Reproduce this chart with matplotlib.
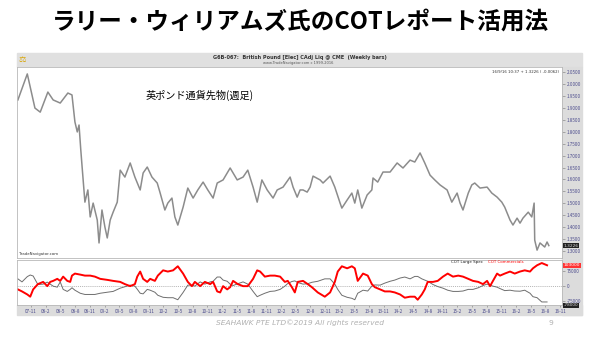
import matplotlib
matplotlib.use("Agg")
import matplotlib.pyplot as plt
from matplotlib.patches import Rectangle

plt.rcParams['font.family'] = ['Noto Sans CJK JP', 'DejaVu Sans']

# ---------------------------------------------------------------------
# Data (decimal years, GBP/USD, net contracts)
# ---------------------------------------------------------------------

price_years = [
    2007.61, 2007.77, 2007.90, 2007.99, 2008.12, 2008.21, 2008.33, 2008.46,
    2008.53, 2008.58, 2008.62, 2008.65, 2008.68, 2008.70, 2008.75, 2008.80,
    2008.84, 2008.89, 2008.96, 2008.99, 2009.04, 2009.09, 2009.13, 2009.18,
    2009.23, 2009.30, 2009.35, 2009.43, 2009.52, 2009.60, 2009.69, 2009.74,
    2009.81, 2009.89, 2009.98, 2010.03, 2010.11, 2010.16, 2010.23, 2010.28,
    2010.33, 2010.42, 2010.50, 2010.59, 2010.67, 2010.76, 2010.84, 2010.93,
    2011.00, 2011.10, 2011.22, 2011.34, 2011.44, 2011.52, 2011.61, 2011.68,
    2011.76, 2011.85, 2011.95, 2012.02, 2012.12, 2012.24, 2012.29, 2012.36,
    2012.41, 2012.46, 2012.53, 2012.58, 2012.63, 2012.75, 2012.80, 2012.92,
    2013.00, 2013.09, 2013.12, 2013.21, 2013.29, 2013.34, 2013.39, 2013.46,
    2013.55, 2013.63, 2013.65, 2013.73, 2013.82, 2013.94, 2014.06, 2014.16,
    2014.28, 2014.36, 2014.45, 2014.53, 2014.62, 2014.70, 2014.79, 2014.91,
    2014.99, 2015.08, 2015.13, 2015.18, 2015.27, 2015.33, 2015.38, 2015.47,
    2015.59, 2015.67, 2015.76, 2015.84, 2015.89, 2015.98, 2016.03, 2016.10,
    2016.15, 2016.20, 2016.29, 2016.35, 2016.39, 2016.40, 2016.44, 2016.49,
    2016.57, 2016.61, 2016.64,
]
price_close = [
    1.933, 2.042, 1.899, 1.882, 1.966, 1.933, 1.920, 1.962,
    1.954, 1.841, 1.799, 1.828, 1.723, 1.660, 1.505, 1.556,
    1.443, 1.501, 1.430, 1.334, 1.472, 1.401, 1.355, 1.430,
    1.463, 1.505, 1.639, 1.610, 1.669, 1.610, 1.556, 1.627,
    1.652, 1.610, 1.585, 1.543, 1.472, 1.501, 1.522, 1.443,
    1.409, 1.484, 1.564, 1.522, 1.556, 1.589, 1.556, 1.522,
    1.585, 1.598, 1.648, 1.598, 1.610, 1.639, 1.568, 1.505,
    1.598, 1.556, 1.522, 1.556, 1.568, 1.610, 1.568, 1.526,
    1.556, 1.556, 1.547, 1.568, 1.614, 1.598, 1.585, 1.614,
    1.568, 1.501, 1.480, 1.514, 1.543, 1.501, 1.556, 1.480,
    1.535, 1.556, 1.606, 1.589, 1.631, 1.631, 1.669, 1.648,
    1.681, 1.673, 1.711, 1.669, 1.618, 1.598, 1.577, 1.556,
    1.505, 1.543, 1.501, 1.472, 1.543, 1.577, 1.585, 1.564,
    1.568, 1.543, 1.526, 1.505, 1.484, 1.430, 1.409, 1.438,
    1.417, 1.438, 1.463, 1.443, 1.501, 1.346, 1.304, 1.334,
    1.317, 1.338, 1.323,
]

cot_years = [
    2007.61, 2007.68, 2007.77, 2007.82, 2007.87, 2007.95, 2008.04, 2008.11,
    2008.16, 2008.21, 2008.28, 2008.33, 2008.38, 2008.45, 2008.50, 2008.53,
    2008.58, 2008.67, 2008.75, 2008.84, 2008.92, 2009.01, 2009.13, 2009.23,
    2009.35, 2009.43, 2009.52, 2009.60, 2009.64, 2009.69, 2009.74, 2009.81,
    2009.86, 2009.94, 2009.99, 2010.08, 2010.16, 2010.25, 2010.33, 2010.42,
    2010.50, 2010.57, 2010.62, 2010.71, 2010.79, 2010.88, 2010.93, 2011.00,
    2011.05, 2011.10, 2011.17, 2011.22, 2011.27, 2011.35, 2011.44, 2011.52,
    2011.61, 2011.68, 2011.73, 2011.81, 2011.90, 2011.98, 2012.07, 2012.15,
    2012.20, 2012.27, 2012.32, 2012.37, 2012.46, 2012.54, 2012.61, 2012.71,
    2012.83, 2012.92, 2013.00, 2013.05, 2013.12, 2013.21, 2013.29, 2013.34,
    2013.39, 2013.48, 2013.56, 2013.63, 2013.68, 2013.77, 2013.85, 2013.94,
    2014.02, 2014.11, 2014.19, 2014.28, 2014.36, 2014.41, 2014.48, 2014.53,
    2014.58, 2014.67, 2014.75, 2014.84, 2014.92, 2015.01, 2015.10, 2015.18,
    2015.27, 2015.35, 2015.44, 2015.52, 2015.59, 2015.64, 2015.69, 2015.76,
    2015.81, 2015.89, 2015.98, 2016.06, 2016.15, 2016.23, 2016.32, 2016.37,
    2016.44, 2016.52, 2016.61,
]
cot_commercials = [
    -16000, -26000, -41000, -52000, -16000, 10000, 21000, 0,
    21000, 26000, 36000, 26000, 47000, 26000, 21000, 52000,
    62000, 57000, 52000, 52000, 47000, 36000, 31000, 26000,
    21000, 10000, 0, 10000, 47000, 72000, 36000, 21000,
    36000, 26000, 52000, 78000, 72000, 78000, 98000, 62000,
    21000, 0, 21000, 0, 21000, 10000, 21000, -26000,
    -31000, 0, -16000, -5000, 26000, 10000, 0, 0,
    36000, 78000, 72000, 47000, 52000, 52000, 47000, 21000,
    26000, -5000, -31000, 21000, 26000, 10000, -5000, -31000,
    -52000, -31000, 21000, 72000, 98000, 88000, 98000, 88000,
    26000, 62000, 52000, 10000, -5000, -16000, -26000, -26000,
    -31000, -41000, -57000, -52000, -52000, -67000, -41000, -16000,
    21000, 21000, 26000, 47000, 62000, 47000, 52000, 47000,
    36000, 26000, 21000, 10000, 26000, 0, 26000, 62000,
    52000, 62000, 72000, 62000, 72000, 78000, 72000, 88000,
    103000, 114000, 103000,
]
cot_large_spec = [
    36000, 21000, 47000, 55000, 50000, 8000, 10000, 20000,
    10000, 0, -5000, 21000, -16000, -26000, -16000, -8000,
    -20000, -35000, -41000, -41000, -41000, -35000, -30000, -26000,
    -10000, -3000, 5000, 0, -15000, -35000, -38000, -16000,
    -20000, -30000, -45000, -55000, -57000, -57000, -67000, -31000,
    5000, 5000, 0, 21000, 10000, 21000, 24000, 45000,
    45000, 30000, 24000, 10000, 3000, 12000, 21000, 10000,
    -26000, -52000, -45000, -35000, -26000, -24000, -16000, 0,
    13000, 23000, 26000, 18000, 10000, 12000, 19000, 24000,
    36000, 36000, 10000, -16000, -45000, -55000, -60000, -67000,
    -35000, -20000, -24000, 0, 6000, 5000, 15000, 24000,
    30000, 40000, 45000, 36000, 48000, 48000, 36000, 30000,
    24000, 8000, -2000, -10000, -20000, -26000, -26000, -24000,
    -16000, -16000, -8000, 3000, 10000, 5000, 0, -5000,
    -12000, -22000, -20000, -24000, -25000, -20000, -35000, -52000,
    -57000, -78000, -78000,
]

price_ticks = [1.30, 1.35, 1.40, 1.45, 1.50, 1.55, 1.60, 1.65, 1.70,
               1.75, 1.80, 1.85, 1.90, 1.95, 2.00, 2.05]
cot_ticks = [-75000, 0, 75000]
x_labels = ['07-11', '08-2', '08-5', '08-8', '08-11', '09-2', '09-5', '09-8',
            '09-11', '10-2', '10-5', '10-8', '10-11', '11-2', '11-5', '11-8',
            '11-11', '12-2', '12-5', '12-8', '12-11', '13-2', '13-5', '13-8',
            '13-11', '14-2', '14-5', '14-8', '14-11', '15-2', '15-5', '15-8',
            '15-11', '16-2', '16-5', '16-8', '16-11']
x_pos = [2000 + int(s.split('-')[0]) + (int(s.split('-')[1]) - 1) / 12
         for s in x_labels]

# ---------------------------------------------------------------------
# Layout helpers (pixel -> figure coords on a 600x338 canvas)
# ---------------------------------------------------------------------
W, H = 600, 338


def fx(px):
    return px / W


def fy(py):
    return 1 - py / H


fig = plt.figure(figsize=(6, 3.38), dpi=100)
fig.patch.set_facecolor('white')

axis_blue = '#4b4b8c'
frame_gray = '#b8b8b8'
xlim = (2007.595, 2016.864)

# gray bands: header, right axis, bottom date axis
fig.add_artist(Rectangle((fx(17), fy(67)), fx(565), 14 / H,
                         transform=fig.transFigure, color='#e0e0e0', zorder=-2))
fig.add_artist(Rectangle((fx(562), fy(315)), fx(20), 248 / H,
                         transform=fig.transFigure, color='#dcdcdc', zorder=-2))
fig.add_artist(Rectangle((fx(17), fy(315)), fx(565), 10 / H,
                         transform=fig.transFigure, color='#dcdcdc', zorder=-2))

# ---------------------------------------------------------------------
# Price panel
# ---------------------------------------------------------------------
ax = fig.add_axes([fx(17), fy(258), fx(545), 191 / H])
ax.plot(price_years, price_close, color='#8c8c8c', lw=1.1)
ax.set_xlim(*xlim)
ax.set_ylim(1.271, 2.071)
ax.yaxis.tick_right()
ax.set_yticks(price_ticks)
ax.set_yticklabels([f"{v:.4f}" for v in price_ticks])
ax.tick_params(axis='y', labelsize=3.3, colors='#777777',
               labelcolor=axis_blue, length=2, width=0.4, pad=1.5)
ax.set_xticks([])
for s in ax.spines.values():
    s.set_color(frame_gray)
    s.set_linewidth(0.6)

ax.text(0.235, 0.85, "英ポンド通貨先物(週足)", transform=ax.transAxes,
        fontsize=7.3, color='black', va='center')
ax.text(0.995, 0.985, "16/9/16 10:37 + 1.3226 ( -0.0062)",
        transform=ax.transAxes, fontsize=2.8, color='#333333',
        ha='right', va='top', family='DejaVu Sans')
ax.text(0.004, 0.012, "TradeNavigator.com", transform=ax.transAxes,
        fontsize=2.8, color='#333333', va='bottom', family='DejaVu Sans')
ax.text(1.003, 1.3226, "1.3226", transform=ax.get_yaxis_transform(),
        fontsize=3.2, color='#dddddd', va='center', ha='left',
        family='DejaVu Sans',
        bbox=dict(boxstyle='square,pad=0.15', fc='#222222', ec='none'))

# ---------------------------------------------------------------------
# COT panel
# ---------------------------------------------------------------------
bx = fig.add_axes([fx(17), fy(305), fx(545), 45 / H])
bx.plot(cot_years, cot_large_spec, color='#6e6e6e', lw=0.7)
bx.plot(cot_years, cot_commercials, color='#ff0000', lw=1.4)
bx.axhline(0, color='#9a9a9a', lw=0.5, ls=(0, (1.5, 1.5)), zorder=0)
bx.set_xlim(*xlim)
bx.set_ylim(-93000, 129000)
bx.yaxis.tick_right()
bx.set_yticks(cot_ticks)
bx.set_yticklabels([str(v) for v in cot_ticks])
bx.tick_params(axis='y', labelsize=3.3, colors='#777777',
               labelcolor=axis_blue, length=2, width=0.4, pad=1.5)
bx.set_xticks(x_pos)
bx.set_xticklabels(x_labels)
bx.tick_params(axis='x', labelsize=3.3, colors='#777777',
               labelcolor=axis_blue, length=1.5, width=0.4, pad=1.5)
for s in bx.spines.values():
    s.set_color(frame_gray)
    s.set_linewidth(0.6)

bx.text(0.855, 0.99, "COT Large Spec", transform=bx.transAxes, fontsize=2.9,
        color='#222222', ha='right', va='top', family='DejaVu Sans')
bx.text(0.865, 0.99, "COT Commercials", transform=bx.transAxes, fontsize=2.9,
        color='#ff0000', ha='left', va='top', family='DejaVu Sans')
bx.text(1.003, cot_commercials[-1], f"{cot_commercials[-1]}",
        transform=bx.get_yaxis_transform(), fontsize=3.2, color='white',
        va='center', ha='left', family='DejaVu Sans',
        bbox=dict(boxstyle='square,pad=0.15', fc='#ff3333', ec='none'))
# last large-spec value box, nudged just below the -75000 tick label
bx.text(1.003, -95000, f"{cot_large_spec[-1]}",
        transform=bx.get_yaxis_transform(), fontsize=3.0, color='#dddddd',
        va='center', ha='left', family='DejaVu Sans', clip_on=False,
        bbox=dict(boxstyle='square,pad=0.1', fc='#222222', ec='none'))

# ---------------------------------------------------------------------
# Header / title / footer texts
# ---------------------------------------------------------------------
fig.text(0.5, fy(22), "ラリー・ウィリアムズ氏のCOTレポート活用法",
         ha='center', va='center', fontsize=17, fontweight='bold')
fig.text(fx(300), fy(57), "G6B-067:  British Pound [Elec] CAdj Liq @ CME  (Weekly bars)",
         ha='center', va='center', fontsize=3.6, fontweight='bold',
         color='#333333', family='DejaVu Sans')
fig.text(fx(298), fy(63), "www.TradeNavigator.com c 1999-2016",
         ha='center', va='center', fontsize=2.6, color='#555555',
         family='DejaVu Sans')
fig.text(fx(22), fy(60), "⚖", ha='center', va='center', fontsize=6,
         color='#d9a400', family='DejaVu Sans')
fig.text(0.5, fy(323), "SEAHAWK PTE LTD©2019 All rights reserved",
         ha='center', va='center', fontsize=5.4, style='italic',
         color='#b0b0b0', family='DejaVu Sans')
fig.text(fx(551), fy(323), "9", ha='center', va='center', fontsize=5.4,
         color='#b0b0b0', family='DejaVu Sans')

plt.savefig("out.png", dpi=100)
plt.close()
